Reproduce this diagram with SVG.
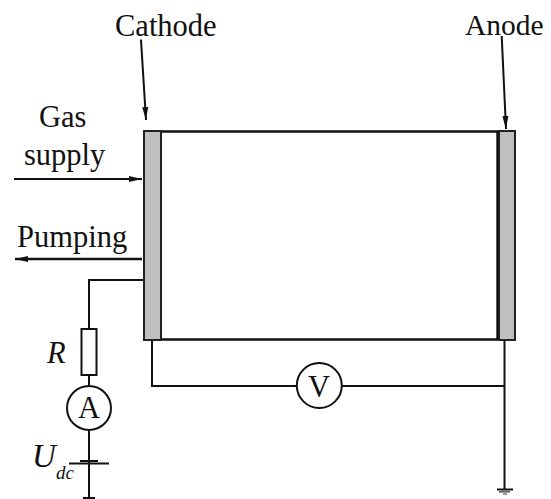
<svg xmlns="http://www.w3.org/2000/svg" width="551" height="499" viewBox="0 0 551 499">
<style>
text{font-family:"Liberation Serif","Times New Roman",serif;fill:#111;font-size:30.5px}
.w{fill:none;stroke:#111;stroke-width:2}
.t{stroke-width:2.4}
.plate{fill:#bfbfbf;stroke:#222;stroke-width:2}
.comp{fill:#fff;stroke:#111;stroke-width:2}
.i{font-style:italic}
.u{font-size:33px}
.s{font-size:19px}
.a{font-size:29.5px}
</style>
<defs>
<marker id="ah" markerUnits="userSpaceOnUse" markerWidth="14" markerHeight="10" refX="13" refY="5" orient="auto"><path d="M0 2 L13 5 L0 8 Z" fill="#111"/></marker>
<marker id="av" markerUnits="userSpaceOnUse" markerWidth="14" markerHeight="10" refX="13" refY="5" orient="auto"><path d="M0 2 L13 5 L0 8 Z" fill="#111"/></marker>
</defs>
<g id="connectors">
<path class="w t" d="M161 131.500H498M161 339.500H498"/>
<path class="w" d="M143 280H89V329M89 375V386M89 429V498"/>
<path class="w" d="M152 340V386H298M342 386H504.500M504.500 340V490"/>
<path class="w" d="M14 179H142" marker-end="url(#ah)"/>
<path class="w t" d="M142 259H15" marker-end="url(#ah)"/>
<path class="w" d="M141 39.500L146 120" marker-end="url(#av)"/>
<path class="w" d="M501.700 36L506 129" marker-end="url(#av)"/>
</g>
<g id="cathode"><rect class="plate" x="144" y="131" width="17" height="209"/><text x="115" y="35.500">Cathode</text></g>
<g id="anode"><rect class="plate" x="499" y="131" width="16" height="209"/><path class="w t" d="M497.500 131V340"/><text class="a" x="465" y="35">Anode</text></g>
<g id="gas-supply"><text x="39" y="127">Gas</text><text x="24" y="165">supply</text></g>
<g id="pumping"><text x="17" y="246.500">Pumping</text></g>
<g id="resistor"><rect class="comp" x="81.500" y="329" width="15" height="46"/><text class="i" x="47" y="363">R</text></g>
<g id="ammeter"><circle class="comp" cx="89" cy="408" r="22"/><text x="78" y="418">A</text></g>
<g id="voltmeter"><circle class="comp" cx="319.300" cy="385.500" r="22.500"/><text x="308" y="397">V</text></g>
<g id="source"><path class="w" d="M80 461H98"/><path class="w" d="M69 463.500H109"/><text class="i u" x="32" y="467">U</text><text class="i s" x="56" y="479">dc</text></g>
<g id="ground-left"><path class="w" d="M83 498H95"/></g>
<g id="ground-right"><path class="w" d="M497 489.500H513"/><path d="M499 491.800H510" stroke="#555" stroke-width="1.500"/><path d="M503 494H507" stroke="#777" stroke-width="1.500"/></g>
</svg>
